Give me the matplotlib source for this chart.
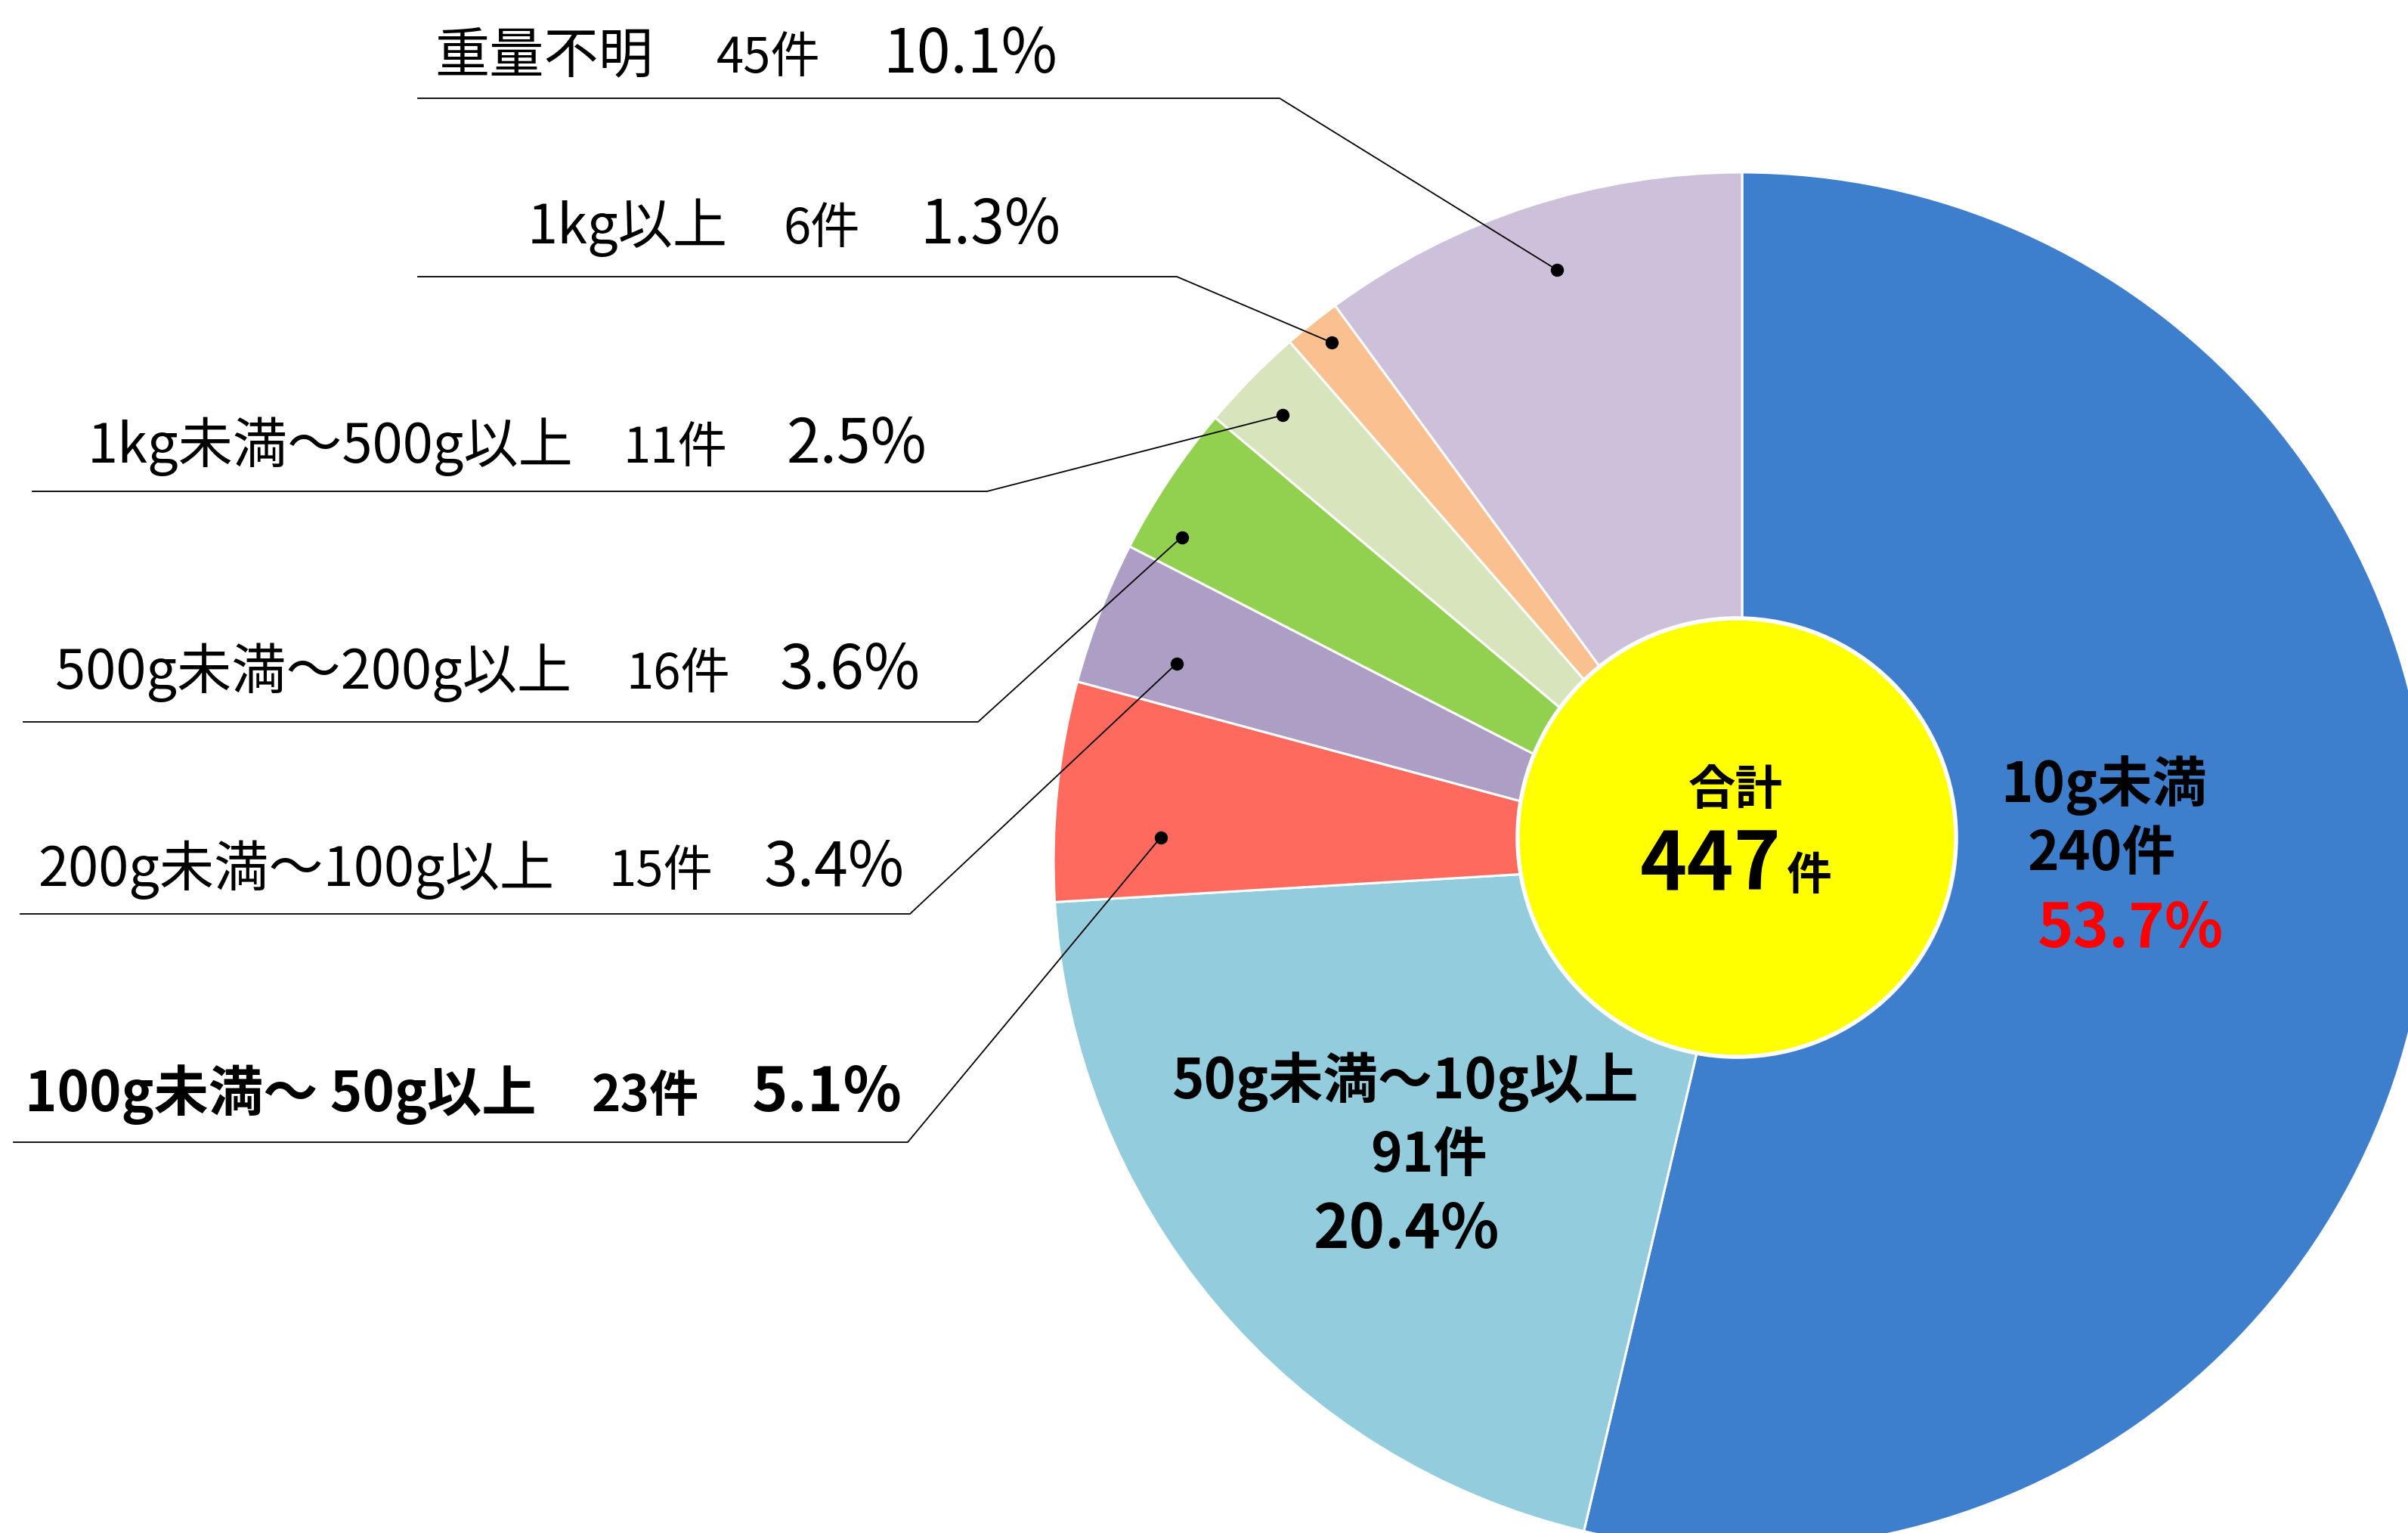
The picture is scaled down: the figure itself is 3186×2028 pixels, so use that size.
import matplotlib
matplotlib.use('Agg')
import matplotlib.pyplot as plt
import numpy as np

plt.rcParams['font.family'] = ['Noto Sans CJK JP', 'DejaVu Sans']

# data (clockwise from 12 o'clock)
categories = ['10g未満', '50g未満～10g以上', '100g未満～ 50g以上', '200g未満～100g以上',
              '500g未満～200g以上', '1kg未満～500g以上', '1kg以上', '重量不明']
counts = [240, 91, 23, 15, 16, 11, 6, 45]
colors = ['#3E7FCD', '#93CDDD', '#FF6A5E', '#AD9EC6', '#92D050', '#D8E4BC', '#FAC090', '#CCC0DA']
total = sum(counts)
pcts = [f'{c / total * 100:.1f}%' for c in counts]

W, H = 3186, 2028
fig = plt.figure(figsize=(W / 100, H / 100), dpi=100)
ax = fig.add_axes([0, 0, 1, 1])


def py(y):
    # pixel row -> data y (y axis points up)
    return H - y


cx, cy, R = 2305, py(1139), 911
wedges, _ = ax.pie(counts, colors=colors, startangle=90, counterclock=False,
                   center=(cx, cy), radius=R, frame=True,
                   wedgeprops=dict(edgecolor='white', linewidth=2.2))
ax.set_xlim(0, W)
ax.set_ylim(0, H)
ax.axis('off')

# yellow centre disc
ax.add_patch(plt.Circle((2298, py(1108)), 290, facecolor='#FFFF00',
                        edgecolor='white', linewidth=4, zorder=3))
ax.text(2296, py(1045), '合計', ha='center', va='center', fontsize=45,
        fontweight='bold', zorder=4)
ax.text(2263, py(1177), str(total), ha='center', va='baseline', fontsize=76,
        fontweight='bold', zorder=4)
ax.text(2394, py(1177), '件', ha='center', va='baseline', fontsize=43,
        fontweight='bold', zorder=4)

# labels inside the two big slices
ax.text(2783, py(1039), categories[0], ha='center', va='center', fontsize=52, fontweight='bold')
ax.text(2781, py(1130), f'{counts[0]}件', ha='center', va='center', fontsize=51, fontweight='bold')
ax.text(2819, py(1230), pcts[0], ha='center', va='center', fontsize=58, fontweight='bold',
        color='#FF0000')

ax.text(1859, py(1431), categories[1], ha='center', va='center', fontsize=52, fontweight='bold')
ax.text(1890, py(1529), f'{counts[1]}件', ha='center', va='center', fontsize=51, fontweight='bold')
ax.text(1860, py(1628), pcts[1], ha='center', va='center', fontsize=58, fontweight='bold')

# outside labels: slice index, baseline, x centres of (name, count, pct),
# underline y, underline start x, elbow x, leader radius fraction, angle tweak
outside = [
    (7, 96, (720, 1017, 1284), 130, 553, 1693, 0.90, -0.7),
    (6, 322, (830, 1087, 1311), 366, 553, 1557, 0.96, -0.3),
    (5, 612, (437, 893, 1134), 650, 43, 1306, 0.93, 0.4),
    (4, 911, (415, 897, 1125), 955, 31, 1294, 0.94, 3.6),
    (3, 1172, (392, 874, 1104), 1209, 27, 1204, 0.87, 1.9),
    (2, 1470, (371, 854, 1094), 1511, 18, 1201, 0.845, 3.5),
]

for i, base, xs, ly, x0, xe, rf, dang in outside:
    w = wedges[i]
    ang = np.deg2rad((w.theta1 + w.theta2) / 2 + dang)
    ax_, ay_ = cx + rf * R * np.cos(ang), cy + rf * R * np.sin(ang)
    ax.plot([x0, xe, ax_], [py(ly), py(ly), ay_], color='black', lw=1.3, zorder=5)
    ax.plot(ax_, ay_, 'o', color='black', ms=11.5, zorder=6)
    weight = 'bold' if i == 2 else 'normal'
    ax.text(xs[0], py(base), categories[i], ha='center', va='baseline', fontsize=52,
            fontweight=weight)
    ax.text(xs[1], py(base), f'{counts[i]}件', ha='center', va='baseline', fontsize=47,
            fontweight=weight)
    ax.text(xs[2], py(base), pcts[i], ha='center', va='baseline', fontsize=58,
            fontweight=weight)

fig.savefig('out.png', dpi=100)
